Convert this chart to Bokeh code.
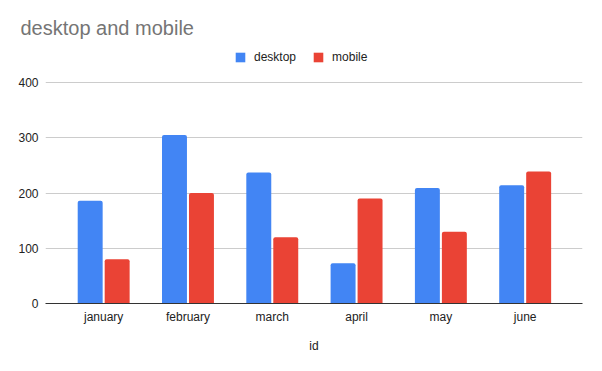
from bokeh.plotting import figure
from bokeh.models import Range1d, FixedTicker, Legend, LegendItem, ColumnDataSource
from bokeh.embed import file_html
from bokeh.resources import INLINE

months = ["january", "february", "march", "april", "may", "june"]
desktop = [186, 305, 237, 73, 209, 214]
mobile = [80, 200, 120, 190, 130, 239]
y_ticks = [0, 100, 200, 300, 400]

FONT = "Liberation Sans"
BLUE = "#4285F4"
RED = "#EA4335"

idx = list(range(len(months)))
src = ColumnDataSource(dict(
    xd=[i - 0.16 for i in idx],
    xm=[i + 0.16 for i in idx],
    desktop=desktop,
    mobile=mobile,
))

p = figure(width=602, height=371, output_backend="svg", toolbar_location=None,
           x_range=Range1d(-0.69, 5.68), y_range=Range1d(0, 472.4),
           min_border_left=45, min_border_right=20, min_border_top=42,
           min_border_bottom=68)
p.outline_line_color = None

p.title.text = "desktop and mobile"
p.title.text_font = FONT
p.title.text_font_size = "20px"
p.title.text_font_style = "normal"
p.title.text_color = "#757575"
p.title.offset = -25
p.title.standoff = 8

rd = p.vbar(x="xd", top="desktop", width=0.296, source=src, color=BLUE,
            line_color=None, border_radius=(2, 2, 0, 0))
rm = p.vbar(x="xm", top="mobile", width=0.296, source=src, color=RED,
            line_color=None, border_radius=(2, 2, 0, 0))

legend = Legend(items=[LegendItem(label="desktop", renderers=[rd]),
                       LegendItem(label="mobile", renderers=[rm])],
                orientation="horizontal", location=(189, 239),
                border_line_color=None, background_fill_alpha=0,
                padding=0, margin=0, spacing=16, label_standoff=8,
                glyph_width=12, glyph_height=12,
                label_text_font=FONT, label_text_font_size="12px",
                label_text_color="#222222")
p.add_layout(legend, "center")

p.xgrid.grid_line_color = None
p.ygrid.grid_line_color = "#cccccc"
p.ygrid.grid_line_width = 1

p.xaxis.ticker = FixedTicker(ticks=idx)
p.xaxis.major_label_overrides = {i: m for i, m in zip(idx, months)}
p.xaxis.axis_line_color = "#333333"
p.xaxis.axis_line_width = 1
p.xaxis.major_tick_line_color = None
p.xaxis.minor_tick_line_color = None
p.xaxis.major_tick_out = 0
p.xaxis.major_tick_in = 0
p.xaxis.minor_tick_out = 0
p.xaxis.major_label_standoff = 6
p.xaxis.major_label_text_font = FONT
p.xaxis.major_label_text_font_size = "12px"
p.xaxis.major_label_text_color = "#222222"
p.xaxis.axis_label = "id"
p.xaxis.axis_label_text_font = FONT
p.xaxis.axis_label_text_font_size = "12px"
p.xaxis.axis_label_text_font_style = "normal"
p.xaxis.axis_label_text_color = "#222222"
p.xaxis.axis_label_standoff = 12

p.yaxis.ticker = FixedTicker(ticks=y_ticks)
p.yaxis.axis_line_color = None
p.yaxis.major_tick_line_color = None
p.yaxis.minor_tick_line_color = None
p.yaxis.major_tick_out = 0
p.yaxis.major_tick_in = 0
p.yaxis.minor_tick_out = 0
p.yaxis.major_label_standoff = 7
p.yaxis.major_label_text_font = FONT
p.yaxis.major_label_text_font_size = "12px"
p.yaxis.major_label_text_color = "#222222"

open("out.html", "w").write(file_html(p, INLINE))
